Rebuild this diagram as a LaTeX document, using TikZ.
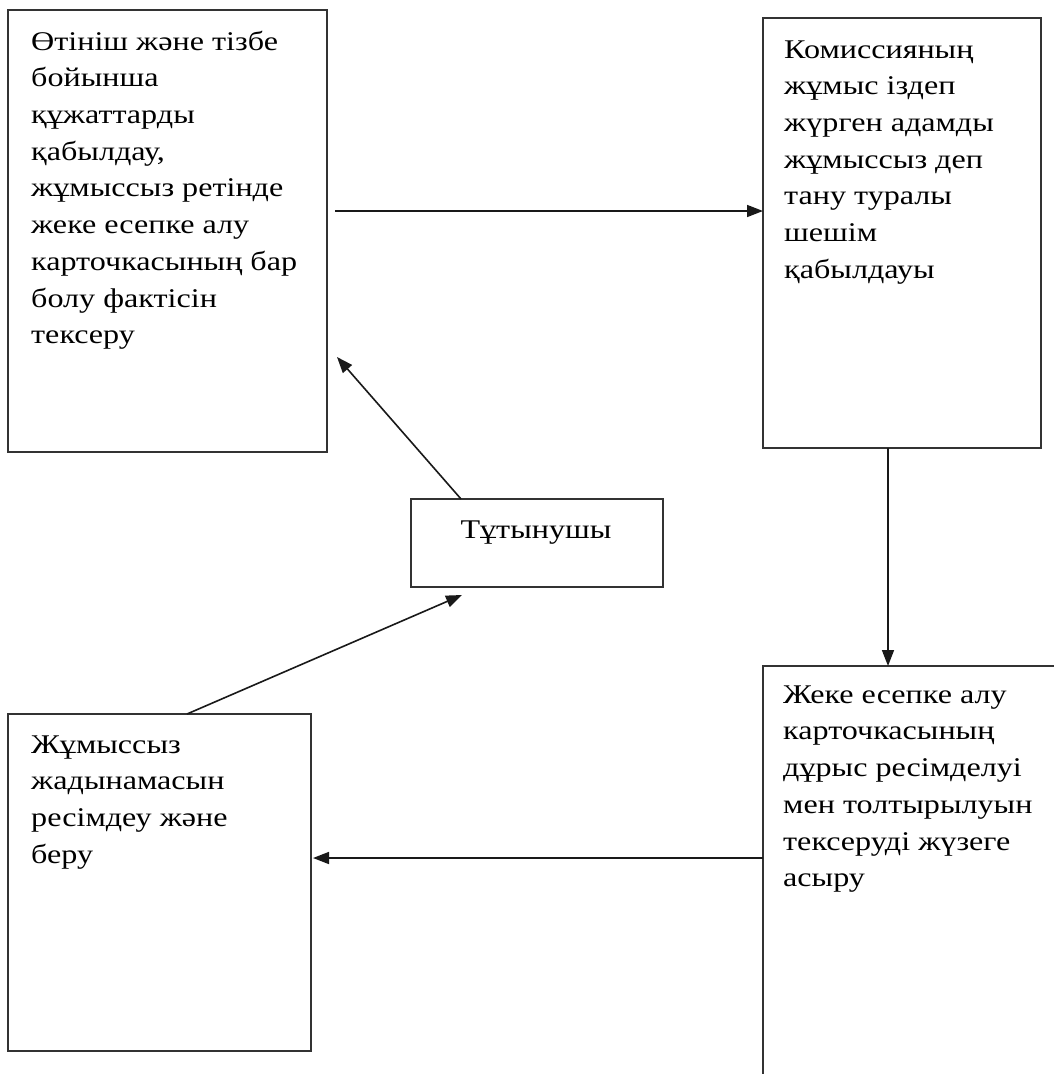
\documentclass[tikz,border=0pt]{standalone}
\usepackage{fontspec}
\setmainfont[FakeStretch=1.19]{Liberation Serif}
\usetikzlibrary{arrows.meta,calc}
\begin{document}
\begin{tikzpicture}[x=1pt,y=-1pt,
  box/.style={draw=black!80,line width=1.6pt,inner sep=0pt,outer sep=0pt},
  txt/.style={anchor=north west,inner sep=0pt,align=left,font=\fontsize{27}{36.7}\selectfont},
  arr/.style={draw=black!90,line width=1.6pt,-{Triangle[length=16pt,width=12pt]}}]
\useasboundingbox (0,0) rectangle (1053,1074);
\fill[white] (0,0) rectangle (1053,1074);
% boxes
\node[box,minimum width=319pt,minimum height=442pt] (A) at (167.5,231) {};
\node[box,minimum width=278pt,minimum height=430pt] (B) at (902,233) {};
\node[box,minimum width=252pt,minimum height=88pt] (C) at (537,543) {};
\node[box,minimum width=303pt,minimum height=337pt] (D) at (159.5,882.5) {};
\node[box,minimum width=302pt,minimum height=424pt] (E) at (914,878) {};
% texts
\node[txt] (At) at (31,24.3) {\strut Өтініш және тізбе\\бойынша\\құжаттарды\\қабылдау,\\жұмыссыз ретінде\\жеке есепке алу\\карточкасының бар\\болу фактісін\\тексеру};
\node[txt] (Bt) at (784,32.3) {\strut Комиссияның\\жұмыс іздеп\\жүрген адамды\\жұмыссыз деп\\тану туралы\\шешім\\қабылдауы};
\node[txt] (Et) at (783,677.3) {\strut Жеке есепке алу\\карточкасының\\дұрыс ресімделуі\\мен толтырылуын\\тексеруді жүзеге\\асыру};
\node[txt] (Dt) at (31,727.3) {\strut Жұмыссыз\\жадынамасын\\ресімдеу және\\беру};
\node[inner sep=0pt,anchor=base,font=\fontsize{27}{36.7}\selectfont] (Ct) at (536,538) {Тұтынушы};
% connector helper coordinates
\coordinate (ab) at (335,211);
\coordinate (bex) at (888,0);
\coordinate (edy) at (0,858);
\coordinate (dcs) at (187,0);
\coordinate (dct) at (462,595);
\coordinate (cas) at (461,0);
\coordinate (cat) at (337,357);
% connectors
\draw[arr] (ab) -- (ab -| B.west);
\draw[arr] (B.south -| bex) -- (E.north -| bex);
\draw[arr] (E.west |- edy) -- ([xshift=2pt]D.east |- edy);
\draw[arr] (D.north -| dcs) -- (dct);
\draw[arr] (C.north -| cas) -- (cat);
\end{tikzpicture}
\end{document}
